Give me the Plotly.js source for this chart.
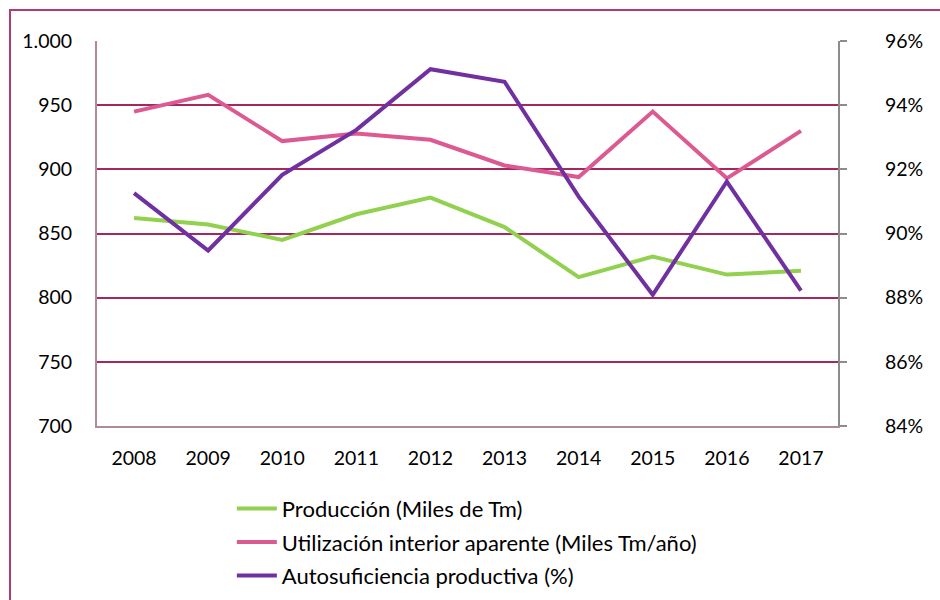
<!DOCTYPE html>
<html>
<head>
<meta charset="utf-8">
<script src="https://cdn.plot.ly/plotly-3.0.1.min.js"></script>
<style>
html,body{margin:0;padding:0;background:#fff;}
#wrap{position:relative;width:940px;height:600px;overflow:hidden;}
#chart{width:940px;height:600px;}
#frame{position:absolute;left:9px;top:9px;width:1000px;height:700px;border-left:2px solid #b43a72;border-top:2px solid #b43a72;pointer-events:none;}
</style>
</head>
<body>
<div id="wrap"><div id="chart"></div><div id="frame"></div></div>
<script>
const years = ['2008','2009','2010','2011','2012','2013','2014','2015','2016','2017'];
const produccion = [862, 857, 845, 865, 878, 855, 816, 832, 818, 821];
const utilizacion = [945, 958, 922, 928, 923, 903, 894, 945, 893, 930];
const autosuficiencia = [91.26, 89.47, 91.83, 93.23, 95.12, 94.73, 91.15, 88.09, 91.62, 88.22];
const leftTicks = [700, 750, 800, 850, 900, 950, 1000];
const rightTicks = [84, 86, 88, 90, 92, 94, 96];
const rightTickText = rightTicks.map(v => v + '%');

const tickFont = {family: 'Lato, "Open Sans", sans-serif', size: 19.5, color: '#000'};
const legendFont = {family: 'Lato, "Open Sans", sans-serif', size: 22, color: '#000'};

const traces = [
  {x: years, y: produccion, name: 'Producción (Miles de Tm)', type: 'scatter', mode: 'lines',
   line: {color: '#92d050', width: 4}, legendgroup: 'a', yaxis: 'y'},
  {x: years, y: utilizacion, name: 'Utilización interior aparente (Miles Tm/año)', type: 'scatter', mode: 'lines',
   line: {color: '#dc5a91', width: 4}, legendgroup: 'b', yaxis: 'y'},
  {x: years, y: autosuficiencia, name: 'Autosuficiencia productiva (%)', type: 'scatter', mode: 'lines',
   line: {color: '#7030a0', width: 4}, legendgroup: 'c', yaxis: 'y2'}
];

const layout = {
  width: 940, height: 600,
  margin: {l: 97, r: 102, t: 41, b: 174, autoexpand: false},
  paper_bgcolor: '#fff', plot_bgcolor: '#fff',
  font: tickFont,
  separators: ',.',
  showlegend: true,
  xaxis: {
    type: 'category', range: [-0.5, 9.5], showgrid: false, zeroline: false,
    showline: true, linecolor: '#b08a9c', linewidth: 2, ticks: '',
    ticklabelstandoff: 14, tickfont: tickFont, fixedrange: true
  },
  yaxis: {
    range: [700, 1000], tickmode: 'array', tickvals: leftTicks, tickformat: ',d',
    showgrid: true, gridcolor: '#a4285f', gridwidth: 2, zeroline: false,
    showline: true, linecolor: '#b08a9c', linewidth: 2, ticks: '',
    ticklabelstandoff: 19, tickfont: tickFont, fixedrange: true
  },
  yaxis2: {
    overlaying: 'y', side: 'right', range: [84, 96], tickmode: 'array',
    tickvals: rightTicks, ticktext: rightTickText,
    showgrid: false, zeroline: false, showline: true, linecolor: '#8c8c8c', linewidth: 2,
    ticks: 'outside', ticklen: 7, tickcolor: '#8c8c8c', tickwidth: 2,
    ticklabelstandoff: 34, tickfont: tickFont, fixedrange: true
  },
  legend: {
    x: 0.182, y: -0.16, xanchor: 'left', yanchor: 'top',
    orientation: 'v', traceorder: 'grouped', tracegroupgap: 2, itemwidth: 40,
    font: legendFont, bgcolor: 'rgba(0,0,0,0)'
  }
};

Plotly.newPlot('chart', traces, layout, {displayModeBar: false, staticPlot: true});
</script>
</body>
</html>
